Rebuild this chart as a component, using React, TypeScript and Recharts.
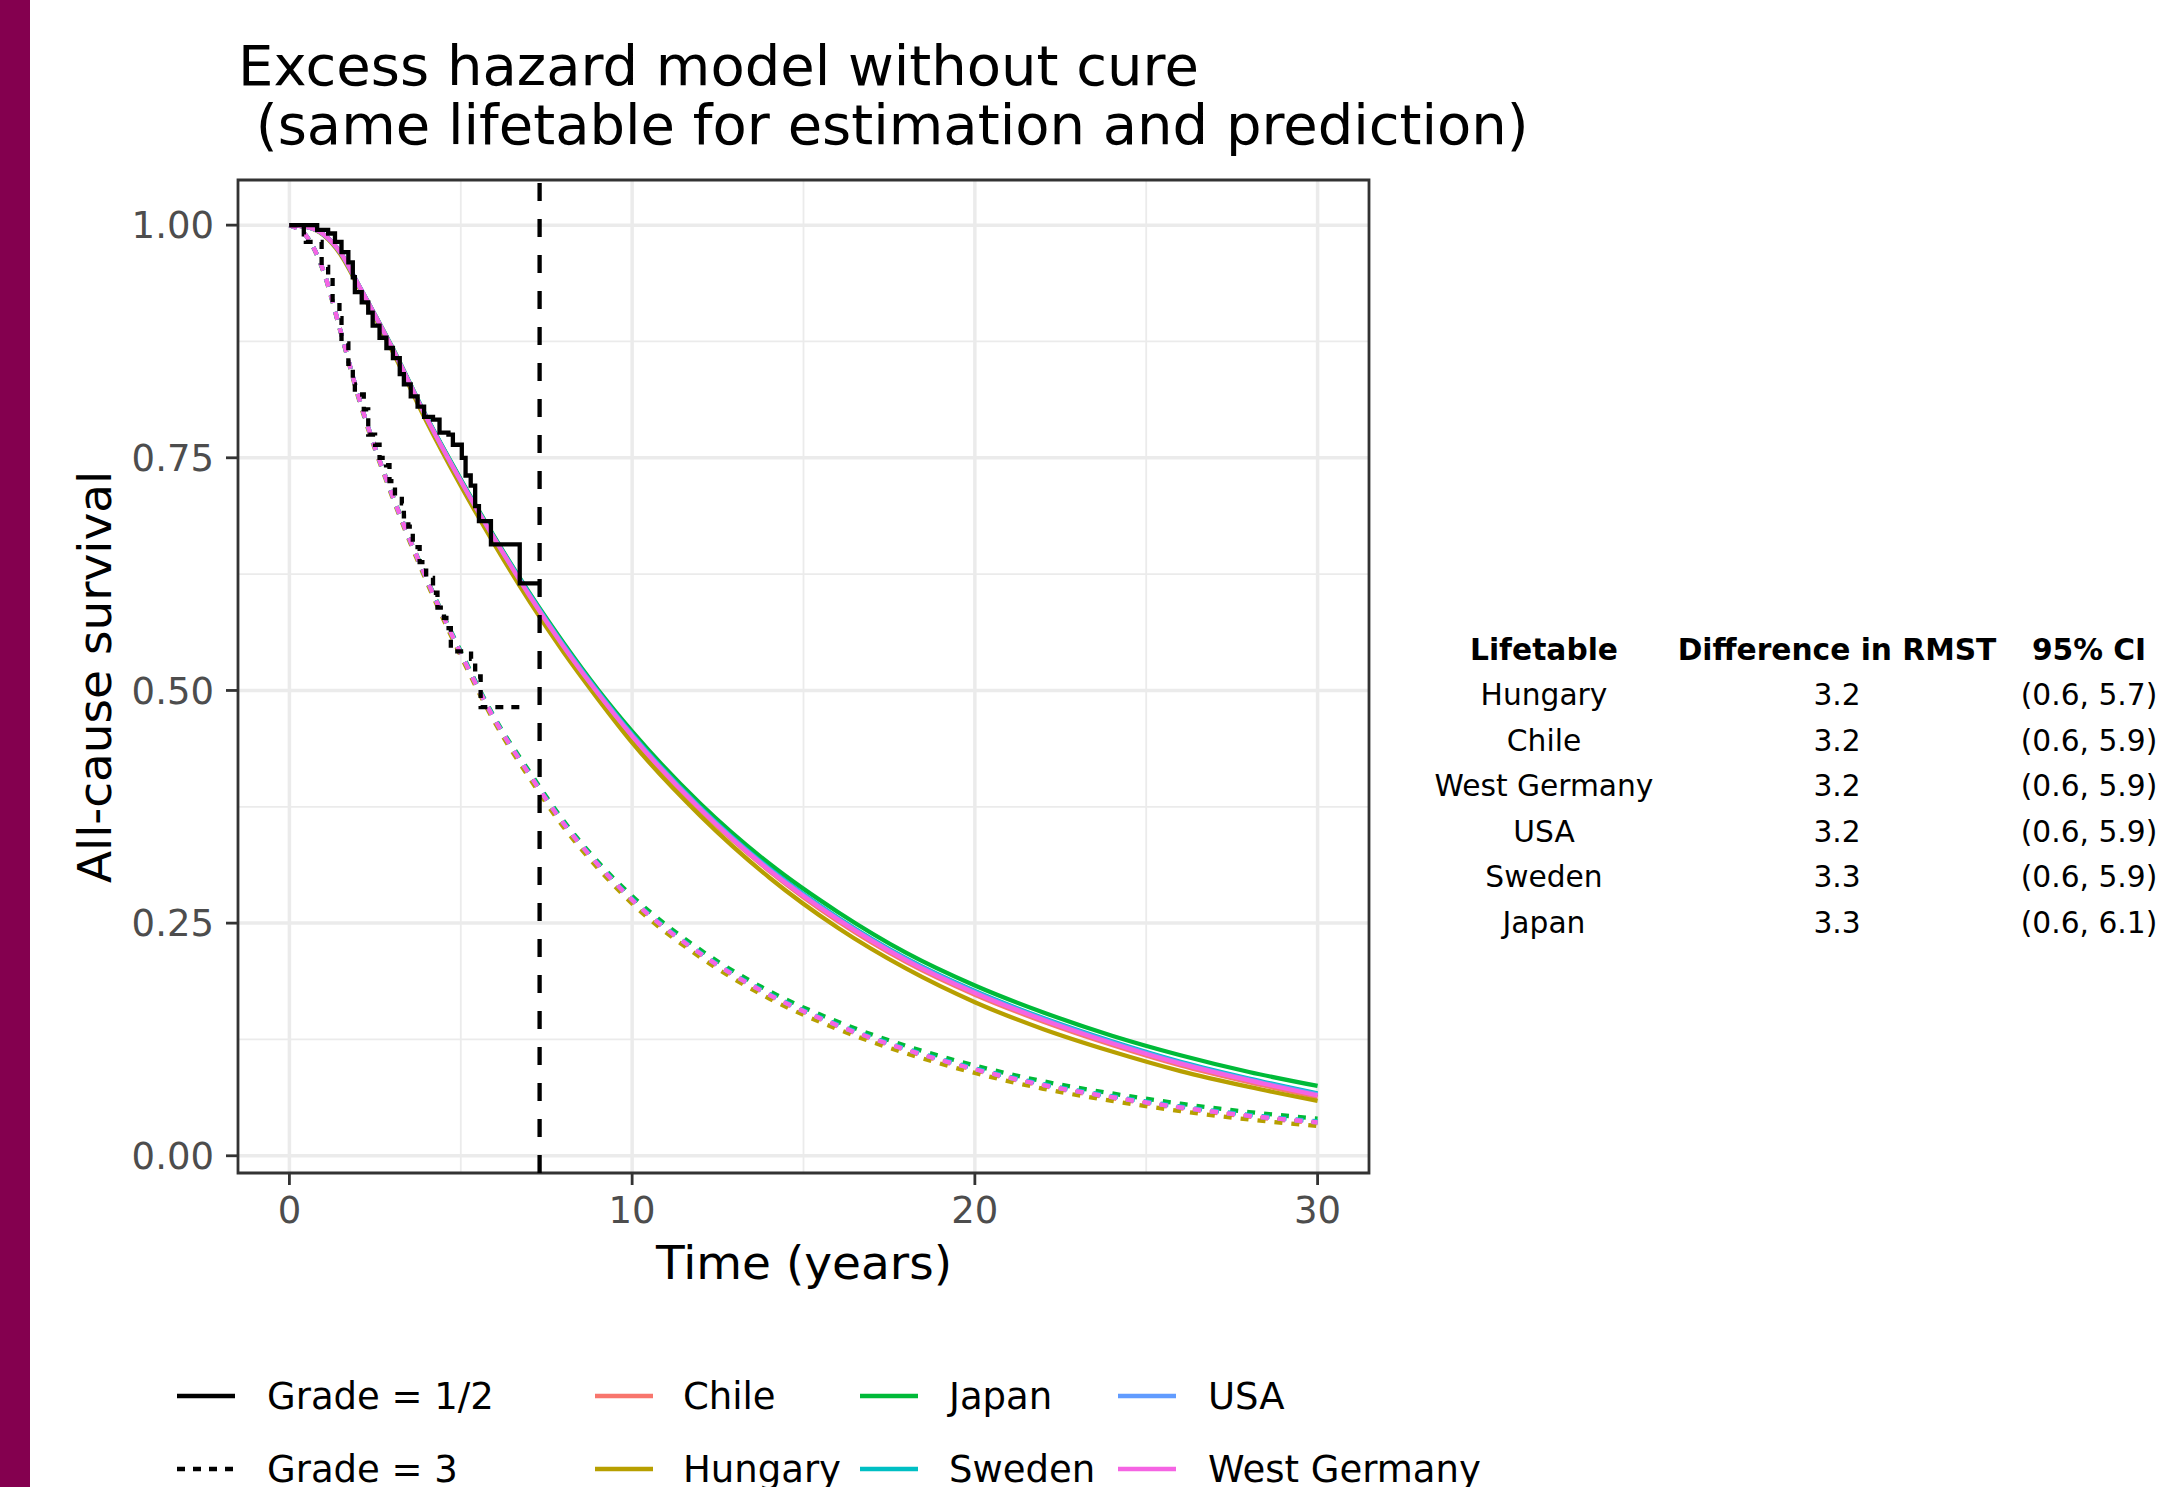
import React from 'react';
import { LineChart, Line, XAxis, YAxis, CartesianGrid, ReferenceLine, ReferenceArea } from 'recharts';

// time grid (years) used for the model predictions
const years = [0, 0.5, 1, 1.5, 2, 3, 4, 5, 6, 7, 8, 9, 10, 12, 14, 16, 18, 20, 22, 24, 26, 28, 30];

// predicted all-cause survival, grade 1/2
const chileG12 = [1.0, 0.998, 0.99, 0.97, 0.937, 0.868, 0.793, 0.724, 0.661, 0.601, 0.546, 0.496, 0.45, 0.371, 0.306, 0.252, 0.208, 0.173, 0.144, 0.119, 0.097, 0.079, 0.063];
const hungaryG12 = [1.0, 0.998, 0.989, 0.968, 0.935, 0.865, 0.789, 0.72, 0.656, 0.596, 0.541, 0.491, 0.444, 0.365, 0.299, 0.245, 0.201, 0.165, 0.136, 0.112, 0.091, 0.074, 0.059];
const japanG12 = [1.0, 0.998, 0.99, 0.97, 0.937, 0.869, 0.794, 0.727, 0.664, 0.605, 0.551, 0.501, 0.456, 0.378, 0.314, 0.262, 0.218, 0.183, 0.154, 0.129, 0.108, 0.09, 0.075];
const swedenG12 = [1.0, 0.998, 0.99, 0.97, 0.937, 0.868, 0.794, 0.726, 0.663, 0.604, 0.549, 0.499, 0.453, 0.374, 0.309, 0.256, 0.212, 0.177, 0.148, 0.123, 0.101, 0.083, 0.067];
const usaG12 = [1.0, 0.998, 0.99, 0.97, 0.937, 0.868, 0.793, 0.725, 0.662, 0.603, 0.548, 0.498, 0.452, 0.373, 0.308, 0.255, 0.211, 0.176, 0.147, 0.122, 0.1, 0.082, 0.066];
const westGermanyG12 = [1.0, 0.998, 0.99, 0.97, 0.937, 0.868, 0.793, 0.725, 0.662, 0.602, 0.547, 0.497, 0.451, 0.372, 0.307, 0.254, 0.21, 0.175, 0.146, 0.121, 0.099, 0.081, 0.065];

// predicted all-cause survival, grade 3
const chileG3 = [1.0, 0.988, 0.95, 0.885, 0.818, 0.71, 0.62, 0.54, 0.468, 0.409, 0.356, 0.312, 0.274, 0.216, 0.172, 0.139, 0.113, 0.092, 0.075, 0.062, 0.051, 0.042, 0.035];
const hungaryG3 = [1.0, 0.988, 0.949, 0.884, 0.816, 0.708, 0.617, 0.537, 0.465, 0.406, 0.353, 0.309, 0.271, 0.213, 0.169, 0.136, 0.11, 0.089, 0.072, 0.059, 0.048, 0.039, 0.032];
const japanG3 = [1.0, 0.988, 0.95, 0.885, 0.818, 0.711, 0.621, 0.542, 0.47, 0.413, 0.36, 0.316, 0.279, 0.221, 0.177, 0.144, 0.118, 0.097, 0.08, 0.067, 0.056, 0.047, 0.04];
const swedenG3 = [1.0, 0.988, 0.95, 0.885, 0.818, 0.71, 0.62, 0.541, 0.469, 0.411, 0.358, 0.314, 0.276, 0.218, 0.174, 0.141, 0.115, 0.094, 0.077, 0.064, 0.053, 0.044, 0.037];
const usaG3 = [1.0, 0.988, 0.95, 0.885, 0.818, 0.71, 0.62, 0.54, 0.468, 0.41, 0.357, 0.313, 0.275, 0.217, 0.173, 0.14, 0.114, 0.093, 0.076, 0.063, 0.052, 0.043, 0.036];
const westGermanyG3 = [1.0, 0.988, 0.95, 0.885, 0.818, 0.71, 0.62, 0.54, 0.468, 0.41, 0.357, 0.313, 0.275, 0.217, 0.173, 0.14, 0.114, 0.093, 0.076, 0.063, 0.052, 0.043, 0.036];

const countries = ['Chile', 'Hungary', 'Japan', 'Sweden', 'USA', 'West Germany'];
const countryColors = ['#F8766D', '#B79F00', '#00BA38', '#00BFC4', '#619CFF', '#F564E3'];
const seriesG12 = [chileG12, hungaryG12, japanG12, swedenG12, usaG12, westGermanyG12];
const seriesG3 = [chileG3, hungaryG3, japanG3, swedenG3, usaG3, westGermanyG3];

// Kaplan-Meier estimates
const kmTimeG12 = [0, 0.81, 1.13, 1.33, 1.52, 1.72, 1.85, 1.91, 2.11, 2.3, 2.43, 2.63, 2.83, 3.02, 3.22, 3.34, 3.54, 3.74, 3.93, 4.19, 4.38, 4.64, 4.77, 5.03, 5.14, 5.29, 5.42, 5.53, 5.88, 6.72, 7.31];
const kmSurvG12 = [1.0, 0.995, 0.991, 0.982, 0.971, 0.96, 0.944, 0.928, 0.917, 0.906, 0.892, 0.879, 0.868, 0.857, 0.84, 0.829, 0.816, 0.805, 0.794, 0.791, 0.777, 0.775, 0.764, 0.75, 0.731, 0.72, 0.698, 0.682, 0.657, 0.615, 0.615];
const kmTimeG3 = [0, 0.42, 0.48, 0.94, 1.13, 1.26, 1.46, 1.52, 1.72, 1.85, 1.91, 2.17, 2.3, 2.5, 2.63, 2.82, 2.92, 3.08, 3.28, 3.34, 3.47, 3.6, 3.8, 3.99, 4.19, 4.32, 4.51, 4.58, 4.71, 5.3, 5.42, 5.58, 6.79];
const kmSurvG3 = [1.0, 0.99, 0.982, 0.955, 0.944, 0.917, 0.9, 0.873, 0.851, 0.829, 0.818, 0.802, 0.775, 0.764, 0.75, 0.742, 0.725, 0.709, 0.701, 0.687, 0.676, 0.654, 0.638, 0.621, 0.605, 0.589, 0.578, 0.567, 0.542, 0.534, 0.515, 0.482, 0.482];

const cutoffYear = 7.3;

const xTicks = [0, 10, 20, 30];
const xMinor = [5, 15, 25];
const yTicks = [0, 0.25, 0.5, 0.75, 1];
const yMinor = [0.125, 0.375, 0.625, 0.875];

// RMST table
const tableCountries = ['Hungary', 'Chile', 'West Germany', 'USA', 'Sweden', 'Japan'];
const rmstDiff = ['3.2', '3.2', '3.2', '3.2', '3.3', '3.3'];
const rmstCI = ['(0.6, 5.7)', '(0.6, 5.9)', '(0.6, 5.9)', '(0.6, 5.9)', '(0.6, 5.9)', '(0.6, 6.1)'];

const FONT = '"DejaVu Sans", sans-serif';
const xDomain: [number, number] = [-1.5, 31.5];
const yDomain: [number, number] = [-0.0185, 1.0485];

const toPoints = (ts: number[], ss: number[]) => ts.map((t, i) => ({ t, s: ss[i] }));

const txt = (left: number, top: number, size: number, content: string, extra: React.CSSProperties = {}) => (
  <div
    style={{
      position: 'absolute',
      left,
      top,
      fontSize: size,
      lineHeight: `${size}px`,
      transform: 'translateY(-50%)',
      whiteSpace: 'pre',
      ...extra,
    }}
  >
    {content}
  </div>
);

const LegendKey = ({ x, y, color, dash }: { x: number; y: number; color: string; dash?: string }) => (
  <svg style={{ position: 'absolute', left: x, top: y - 5 }} width={60} height={10}>
    <line x1={0} y1={5} x2={58} y2={5} stroke={color} strokeWidth={4.3} strokeDasharray={dash} />
  </svg>
);

export default function App() {
  const legendCols = [
    { key: 595, text: 683 },
    { key: 860, text: 949 },
    { key: 1118, text: 1208 },
  ];
  const rowY = [1396, 1469];
  const tableRowY = [695, 741, 786, 832, 877, 923];
  const lw = 4.3;

  return (
    <div
      style={{
        position: 'absolute',
        left: 0,
        top: 0,
        width: 2169,
        height: 1487,
        overflow: 'hidden',
        background: '#fff',
        fontFamily: FONT,
        color: '#000',
      }}
    >
      <div style={{ position: 'absolute', left: 0, top: 0, width: 30, height: 1487, background: '#84004F' }} />

      {txt(238, 66, 56, 'Excess hazard model without cure')}
      {txt(238, 125, 56, ' (same lifetable for estimation and prediction)')}

      <div style={{ position: 'absolute', left: 0, top: 0 }}>
        <LineChart width={1400} height={1300} margin={{ top: 180, right: 31, bottom: 0, left: 0 }}>
          <CartesianGrid stroke="#EBEBEB" strokeWidth={1.8} horizontalValues={yMinor} verticalValues={xMinor} fill="none" />
          <CartesianGrid stroke="#EBEBEB" strokeWidth={3.5} horizontalValues={yTicks} verticalValues={xTicks} fill="none" />
          <XAxis
            dataKey="t"
            type="number"
            domain={xDomain}
            ticks={xTicks}
            allowDataOverflow
            height={127}
            tickSize={12}
            tickMargin={12}
            axisLine={false}
            tickLine={{ stroke: '#333333', strokeWidth: 2.8 }}
            tick={{ fill: '#4D4D4D', fontSize: 37, fontFamily: FONT }}
          />
          <YAxis
            type="number"
            domain={yDomain}
            ticks={yTicks}
            allowDataOverflow
            width={238}
            tickSize={12}
            tickMargin={12}
            tickFormatter={(v: number) => v.toFixed(2)}
            axisLine={false}
            tickLine={{ stroke: '#333333', strokeWidth: 2.8 }}
            tick={{ fill: '#4D4D4D', fontSize: 37, fontFamily: FONT }}
          />
          {countries.map((c, i) => [
            <Line
              key={`${c}-g3`}
              name={`${c} grade 3`}
              data={toPoints(years, seriesG3[i])}
              dataKey="s"
              type="monotone"
              stroke={countryColors[i]}
              strokeWidth={lw}
              strokeDasharray="8 9"
              dot={false}
              activeDot={false}
              isAnimationActive={false}
            />,
            <Line
              key={`${c}-g12`}
              name={`${c} grade 1/2`}
              data={toPoints(years, seriesG12[i])}
              dataKey="s"
              type="monotone"
              stroke={countryColors[i]}
              strokeWidth={lw}
              dot={false}
              activeDot={false}
              isAnimationActive={false}
            />,
          ])}
          <Line
            name="KM grade 3"
            data={toPoints(kmTimeG3, kmSurvG3)}
            dataKey="s"
            type="stepAfter"
            stroke="#000"
            strokeWidth={lw}
            strokeDasharray="8 8"
            dot={false}
            activeDot={false}
            isAnimationActive={false}
          />
          <Line
            name="KM grade 1/2"
            data={toPoints(kmTimeG12, kmSurvG12)}
            dataKey="s"
            type="stepAfter"
            stroke="#000"
            strokeWidth={lw}
            dot={false}
            activeDot={false}
            isAnimationActive={false}
          />
          <ReferenceLine x={cutoffYear} stroke="#000" strokeWidth={4.3} strokeDasharray="18 18" />
          <ReferenceArea
            x1={xDomain[0]}
            x2={xDomain[1]}
            y1={yDomain[0]}
            y2={yDomain[1]}
            fill="none"
            stroke="#333333"
            strokeWidth={2.8}
            ifOverflow="visible"
          />
        </LineChart>
      </div>

      {/* axis titles */}
      <div
        style={{
          position: 'absolute',
          left: 94,
          top: 677,
          fontSize: 47,
          lineHeight: '47px',
          whiteSpace: 'pre',
          transform: 'translate(-50%, -50%) rotate(-90deg)',
        }}
      >
        All-cause survival
      </div>
      <div
        style={{
          position: 'absolute',
          left: 804,
          top: 1262,
          fontSize: 47,
          lineHeight: '47px',
          whiteSpace: 'pre',
          transform: 'translate(-50%, -50%)',
        }}
      >
        Time (years)
      </div>

      {/* RMST table */}
      {[
        { cx: 1544, head: 'Lifetable', cells: tableCountries },
        { cx: 1837, head: 'Difference in RMST', cells: rmstDiff },
        { cx: 2089, head: '95% CI', cells: rmstCI },
      ].map((col) => (
        <React.Fragment key={col.head}>
          {txt(col.cx, 650, 29.7, col.head, { fontWeight: 'bold', transform: 'translate(-50%, -50%)' })}
          {col.cells.map((c, i) => (
            <React.Fragment key={i}>{txt(col.cx, tableRowY[i], 29.7, c, { transform: 'translate(-50%, -50%)' })}</React.Fragment>
          ))}
        </React.Fragment>
      ))}

      {/* legend: line type */}
      <LegendKey x={177} y={rowY[0]} color="#000" />
      {txt(267, rowY[0], 37, 'Grade = 1/2')}
      <LegendKey x={177} y={rowY[1]} color="#000" dash="8 8" />
      {txt(267, rowY[1], 37, 'Grade = 3')}

      {/* legend: lifetable colour */}
      {countries.map((c, i) => {
        const col = legendCols[Math.floor(i / 2)];
        const y = rowY[i % 2];
        return (
          <React.Fragment key={c}>
            <LegendKey x={col.key} y={y} color={countryColors[i]} />
            {txt(col.text, y, 37, c)}
          </React.Fragment>
        );
      })}
    </div>
  );
}
